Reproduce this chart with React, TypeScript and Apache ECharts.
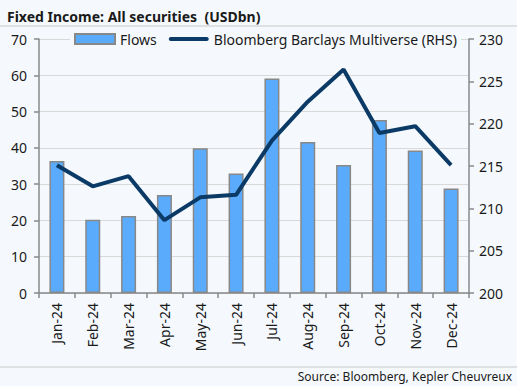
import React, { useEffect, useRef } from "react";
import * as echarts from "echarts";

const categories = ["Jan-24", "Feb-24", "Mar-24", "Apr-24", "May-24", "Jun-24", "Jul-24", "Aug-24", "Sep-24", "Oct-24", "Nov-24", "Dec-24"];
const flows = [36.4, 20.2, 21.2, 27.0, 39.9, 32.9, 59.1, 41.6, 35.3, 47.7, 39.3, 28.8];
const multiverse = [215.1, 212.6, 213.8, 208.6, 211.3, 211.6, 218.0, 222.6, 226.4, 218.9, 219.7, 215.1];

const FONT = "'Source Sans Pro', 'Noto Sans', 'Open Sans', sans-serif";
const BG = "#f5f9fd";

export default function App() {
  const ref = useRef<HTMLDivElement>(null);
  useEffect(() => {
    document.body.style.margin = "0";
    document.body.style.background = BG;
    const chart = echarts.init(ref.current!, null, { renderer: "svg" });
    chart.setOption({
      animation: false,
      backgroundColor: BG,
      textStyle: { fontFamily: FONT },
      title: {
        text: "Fixed Income: All securities  (USDbn)",
        left: 2,
        top: 4,
        textStyle: { fontFamily: FONT, fontSize: 14, fontWeight: "bold", color: "#1a1a1a" },
      },
      graphic: [
        { type: "line", shape: { x1: 0, y1: 26, x2: 517, y2: 26 }, style: { stroke: "#c8c8c8", lineWidth: 1 } },
        { type: "line", shape: { x1: 0, y1: 367, x2: 517, y2: 367 }, style: { stroke: "#c8c8c8", lineWidth: 1 } },
        {
          type: "text",
          right: 5,
          top: 370,
          style: { text: "Source: Bloomberg, Kepler Cheuvreux", fontFamily: FONT, fontSize: 12, fill: "#1a1a1a" },
        },
      ],
      legend: {
        top: 31,
        left: 70,
        itemGap: 12,
        itemWidth: 40,
        itemHeight: 10,
        backgroundColor: BG,
        padding: [1, 4],
        textStyle: { fontFamily: FONT, fontSize: 14, color: "#1a1a1a" },
        data: [
          { name: "Flows", icon: "rect" },
          {
            name: "Bloomberg Barclays Multiverse (RHS)",
            icon: "path://M2 0 H38 A2 2 0 0 1 38 4 H2 A2 2 0 0 1 2 0 Z",
          },
        ],
      },
      grid: { left: 39, right: 48, top: 39, bottom: 93 },
      xAxis: {
        type: "category",
        data: categories,
        axisLine: { lineStyle: { color: "#888", width: 1.5 } },
        axisTick: { show: true, length: 5, lineStyle: { color: "#888", width: 1.5 } },
        axisLabel: { rotate: 90, fontFamily: FONT, fontSize: 14, color: "#1a1a1a", margin: 10 },
      },
      yAxis: [
        {
          type: "value",
          min: 0,
          max: 70,
          interval: 10,
          position: "left",
          axisLine: { show: true, lineStyle: { color: "#888", width: 1.5 } },
          axisTick: { show: true, length: 5, lineStyle: { color: "#888", width: 1.5 } },
          splitLine: { lineStyle: { color: "#d9d9d9" } },
          axisLabel: { fontFamily: FONT, fontSize: 14, color: "#1a1a1a", margin: 12 },
        },
        {
          type: "value",
          min: 200,
          max: 230,
          interval: 5,
          position: "right",
          axisLine: { show: true, lineStyle: { color: "#888", width: 1.5 } },
          axisTick: { show: true, length: 5, lineStyle: { color: "#888", width: 1.5 } },
          splitLine: { show: false },
          axisLabel: { fontFamily: FONT, fontSize: 14, color: "#1a1a1a", margin: 10 },
        },
      ],
      series: [
        {
          name: "Flows",
          type: "bar",
          data: flows,
          barWidth: 15,
          itemStyle: { color: "#5aabfc", borderColor: "#888", borderWidth: 1.5 },
        },
        {
          name: "Bloomberg Barclays Multiverse (RHS)",
          type: "line",
          yAxisIndex: 1,
          data: multiverse,
          symbol: "none",
          lineStyle: { color: "#0b3a66", width: 4 },
          itemStyle: { color: "#0b3a66" },
        },
      ],
    });
    return () => chart.dispose();
  }, []);
  return <div ref={ref} style={{ width: 517, height: 386 }} />;
}
